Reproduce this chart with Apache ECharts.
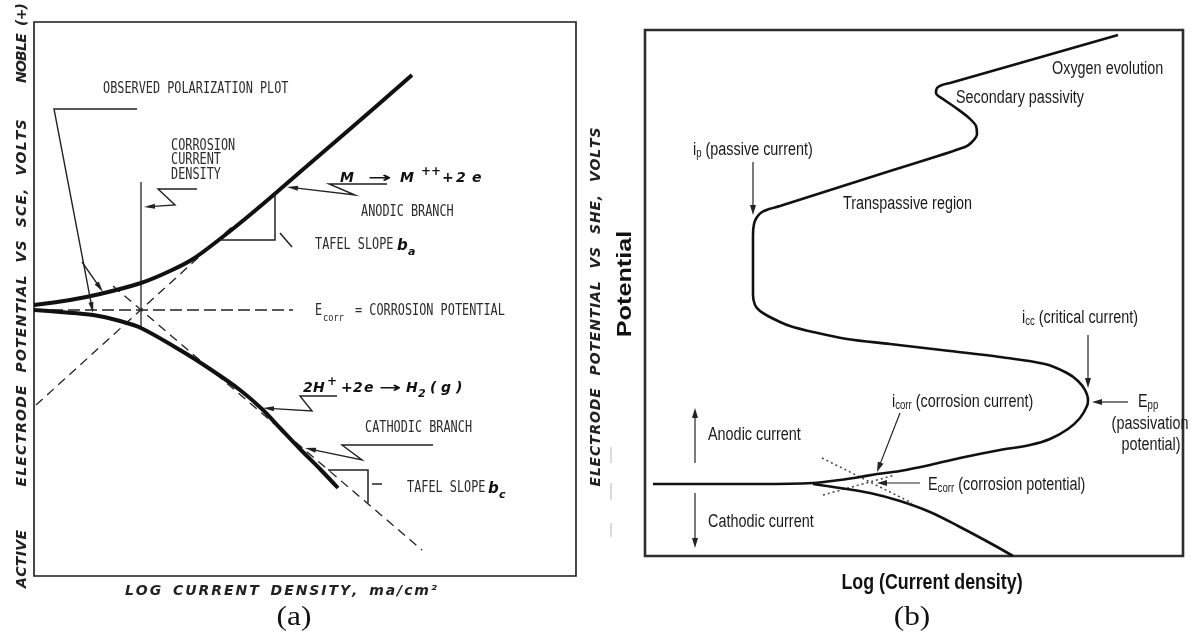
<!DOCTYPE html>
<html>
<head>
<meta charset="utf-8">
<script src="https://cdn.jsdelivr.net/npm/echarts@6/dist/echarts.min.js"></script>
<style>
  html, body { margin: 0; padding: 0; background: #fff; }
  #chart { width: 1193px; height: 640px; }
</style>
</head>
<body>
<div id="chart"></div>
<script>
// ---------- Panel (a): Evans diagram (schematic units: log i across, potential up) ----------
const aAnodic = [[0,271],[36,276],[66,282],[107,293],[136,305],[159,317],[186,337],[211,357],[236,378],[266,404],[316,447],[378,501]];
const aCathodic = [[0,266],[26,264],[59,261],[86,255],[107,248],[146,226],[176,207],[206,186],[228,167],[246,148],[266,127],[286,107],[304,88]];
const aAnodicTafel = [[2,171],[198,349]];
const aCathodicTafel = [[79,290],[388,26]];
const aEcorrLine = [[0,266],[259,266]];
const aIcorrLine = [[107,394],[107,246]];
// Tafel slope triangles and their small pointer ticks
const aGuides = [
  [[186,336],[241,336],[241,383]],
  [[294,106],[334,106],[334,73]],
  [[246,343],[258,329]],
  [[338,92],[348,92]]
];
// annotation leaders, the last point is the arrow tip
const aLeaders = [
  [[103,467],[20,467],[59,263]],
  [[48,314],[69,284]],
  [[163,387],[124,387],[141,371],[110,369]],
  [[353,392],[295,392],[321,381],[253,389]],
  [[303,180],[266,180],[278,165],[229,168]],
  [[399,131],[308,131],[328,116],[271,128]]
];

// ---------- Panel (b): active-passive polarization curve ----------
const bAnodic = [[8,72],[55,72],[115,72],[168,73],[195,76],[215,79],[232,82],[255,85],[285,91],[315,98],[355,106],[385,111],[405,117],[423,127],[435,138],[442,150],[443,156],[440,166],[433,175],[422,183],[400,192],[355,199],[305,205],[245,212],[202,217],[168,224],[145,230],[133,235],[123,240],[115,245],[110,251],[108,261],[108,296],[108,321],[109,332],[112,339],[117,344],[124,347],[135,350],[245,385],[320,409],[327,414],[332,422],[331,430],[324,438],[311,448],[298,457],[291,463],[292,468],[297,471],[305,473],[473,521]];
const bCathodic = [[168,72],[195,68],[225,63],[255,55],[285,44],[315,29],[345,13],[368,0]];
const bAnodicTafel = [[178,61],[250,81]];
const bCathodicTafel = [[177,98],[267,53]];
const bArrows = [
  [[108,394],[108,341]],
  [[443,221],[443,168]],
  [[483,154],[447,154]],
  [[255,143],[232,84]],
  [[275,73],[232,73]],
  [[50,93],[50,148]],
  [[50,63],[50,8]]
];

// ---------- helpers ----------
const chart = echarts.init(document.getElementById('chart'), null, { renderer: 'canvas' });
const mctx = document.createElement('canvas').getContext('2d');
function textWidth(t, font) { mctx.font = font; return mctx.measureText(t).width; }
function fontStr(size, family, weight, style) { return (style || 'normal') + ' ' + (weight || 'normal') + ' ' + size + 'px ' + family; }

function piece(x, y, text, font, o) {
  o = o || {};
  const align = o.align || 'left';
  return {
    type: 'text', x: x, y: y, scaleX: o.sx || 1, rotation: o.rot || 0, silent: true, z: 20,
    style: { text: text, font: font, fill: o.fill || '#1a1a1a',
      align: align, verticalAlign: 'middle', textAlign: align, textVerticalAlign: 'middle' }
  };
}
function run(x, y, parts, base) {
  const out = []; let cx = x;
  parts.forEach(function (p) {
    const font = fontStr(p.size || base.size, base.family, p.weight || base.weight, p.style || base.style);
    const sx = p.sx || base.sx || 1;
    out.push(piece(cx, y + (p.dy || 0), p.t, font, { sx: sx, fill: base.fill }));
    cx += textWidth(p.t, font) * sx + (p.gap || 0);
  });
  return out;
}
// letter-spaced lettering stretched over a given span
function spaced(text, cx, cy, span, font, vertical, wordGap, fill) {
  const chars = Array.from(text);
  const letters = chars.filter(function (c) { return c !== ' '; });
  const nSp = chars.length - letters.length;
  const sum = letters.reduce(function (a, c) { return a + textWidth(c, font); }, 0);
  const gap = (span - sum - nSp * wordGap) / Math.max(1, letters.length - 1);
  const out = []; let pos = 0;
  chars.forEach(function (c) {
    if (c === ' ') { pos += wordGap; return; }
    const w = textWidth(c, font), mid = pos + w / 2;
    if (vertical) out.push(piece(cx, cy + span / 2 - mid, c, font, { rot: Math.PI / 2, align: 'center', fill: fill }));
    else out.push(piece(cx - span / 2 + mid, cy, c, font, { align: 'center', fill: fill }));
    pos += w + gap;
  });
  return out;
}

function curve(data, g, lineStyle, smooth) {
  return { type: 'line', xAxisIndex: g, yAxisIndex: g, data: data, smooth: smooth,
    showSymbol: false, symbol: 'none', silent: true, animation: false, z: 2, lineStyle: lineStyle };
}
function pathSeries(list, g, opt) {
  return {
    type: 'custom', coordinateSystem: 'cartesian2d', xAxisIndex: g, yAxisIndex: g,
    silent: true, animation: false, clip: false, z: 3,
    data: list.map(function (p) { return p[0]; }),
    renderItem: function (params, api) {
      const pts = list[params.dataIndex].map(function (p) { return api.coord(p); });
      const n = pts.length;
      if (!opt.head) {
        return { type: 'polyline', shape: { points: pts }, style: { stroke: opt.color, lineWidth: opt.width, fill: 'none' } };
      }
      const tip = pts[n - 1], prev = pts[n - 2];
      const ang = Math.atan2(tip[1] - prev[1], tip[0] - prev[0]);
      const c = Math.cos(ang), s = Math.sin(ang);
      const base = [tip[0] - opt.head * c, tip[1] - opt.head * s];
      const hw = opt.headW / 2;
      const l = [base[0] + hw * s, base[1] - hw * c];
      const r = [base[0] - hw * s, base[1] + hw * c];
      const linePts = pts.slice(0, n - 1).concat([[tip[0] - (opt.head - 1) * c, tip[1] - (opt.head - 1) * s]]);
      return { type: 'group', children: [
        { type: 'polyline', shape: { points: linePts }, style: { stroke: opt.color, lineWidth: opt.width, fill: 'none' } },
        { type: 'polygon', shape: { points: [tip, l, r] }, style: { fill: opt.color, stroke: 'none' } }
      ] };
    }
  };
}

// ---------- text ----------
const mono = { family: '"DejaVu Sans Mono"', size: 15, sx: 0.79, fill: '#2b2b2b' };
const monoFont = fontStr(15, mono.family);
const formula = { family: '"DejaVu Sans"', size: 14, weight: 'bold', style: 'italic', fill: '#111' };
const sans = { family: '"Liberation Sans", Arial', size: 18, sx: 0.8, fill: '#1a1a1a' };
const sansFont = fontStr(18, sans.family);
const axisLetter = fontStr(14, '"DejaVu Sans"', 'bold', 'italic');
const serifFont = fontStr(28, '"Liberation Serif", "Times New Roman"');

let texts = [];
// panel (a) lettering
texts.push(piece(103, 89, 'OBSERVED POLARIZATION PLOT', monoFont, { sx: mono.sx, fill: mono.fill }));
texts.push(piece(171, 146, 'CORROSION', monoFont, { sx: mono.sx, fill: mono.fill }));
texts.push(piece(171, 160, 'CURRENT', monoFont, { sx: mono.sx, fill: mono.fill }));
texts.push(piece(171, 175, 'DENSITY', monoFont, { sx: mono.sx, fill: mono.fill }));
texts.push(piece(361, 212, 'ANODIC BRANCH', monoFont, { sx: mono.sx, fill: mono.fill }));
texts.push(piece(315, 245, 'TAFEL SLOPE', monoFont, { sx: mono.sx, fill: mono.fill }));
texts.push(piece(365, 428, 'CATHODIC BRANCH', monoFont, { sx: mono.sx, fill: mono.fill }));
texts.push(piece(407, 488, 'TAFEL SLOPE', monoFont, { sx: mono.sx, fill: mono.fill }));
texts.push(piece(315, 311, 'E', monoFont, { sx: mono.sx, fill: mono.fill }));
texts.push(piece(323, 318, 'corr', fontStr(11, mono.family), { sx: mono.sx, fill: mono.fill }));
texts.push(piece(355, 311, '= CORROSION POTENTIAL', monoFont, { sx: mono.sx, fill: mono.fill }));

const fBig = fontStr(14, formula.family, 'bold', 'italic');
const fSmall = fontStr(11, formula.family, 'bold', 'italic');
// M -> M++ + 2e
texts.push(piece(340, 178, 'M', fBig, { fill: formula.fill }));
texts.push(piece(368, 178, '\u2192', fBig, { sx: 2.0, fill: formula.fill }));
texts.push(piece(400, 178, 'M', fBig, { fill: formula.fill }));
texts.push(piece(421, 172, '++', fontStr(12, formula.family, 'bold', 'italic'), { fill: formula.fill }));
texts.push(piece(442, 178, '+', fBig, { fill: formula.fill }));
texts.push(piece(456, 178, '2', fBig, { fill: formula.fill }));
texts.push(piece(472, 178, 'e', fBig, { fill: formula.fill }));
// 2H+ + 2e -> H2(g)
texts.push(piece(303, 388, '2', fBig, { fill: formula.fill }));
texts.push(piece(313, 388, 'H', fBig, { fill: formula.fill }));
texts.push(piece(327, 382, '+', fontStr(12, formula.family, 'bold', 'italic'), { fill: formula.fill }));
texts.push(piece(341, 388, '+', fBig, { fill: formula.fill }));
texts.push(piece(353, 388, '2', fBig, { fill: formula.fill }));
texts.push(piece(364, 388, 'e', fBig, { fill: formula.fill }));
texts.push(piece(379, 388, '\u2192', fBig, { sx: 1.9, fill: formula.fill }));
texts.push(piece(406, 388, 'H', fBig, { fill: formula.fill }));
texts.push(piece(418, 394, '2', fSmall, { fill: formula.fill }));
texts.push(piece(430, 388, '(', fBig, { fill: formula.fill }));
texts.push(piece(441, 388, 'g', fBig, { fill: formula.fill }));
texts.push(piece(456, 388, ')', fBig, { fill: formula.fill }));
// Tafel slope symbols
texts.push(piece(397, 246, 'b', fontStr(15, formula.family, 'bold', 'italic'), { fill: formula.fill }));
texts.push(piece(408, 252, 'a', fSmall, { fill: formula.fill }));
texts.push(piece(488, 489, 'b', fontStr(15, formula.family, 'bold', 'italic'), { fill: formula.fill }));
texts.push(piece(499, 495, 'c', fSmall, { fill: formula.fill }));

// panel (a) axis lettering
texts = texts.concat(spaced('NOBLE (+)', 22, 43, 80, axisLetter, true, 8, '#222'));
texts = texts.concat(spaced('ELECTRODE POTENTIAL VS SCE, VOLTS', 22, 303, 367, axisLetter, true, 12, '#222'));
texts = texts.concat(spaced('ACTIVE', 22, 559, 58, axisLetter, true, 0, '#222'));
texts = texts.concat(spaced('ELECTRODE POTENTIAL VS SHE, VOLTS', 596, 307, 359, axisLetter, true, 12, '#222'));
texts = texts.concat(spaced('LOG CURRENT DENSITY, ma/cm\u00b2', 281, 591, 312, axisLetter, false, 10, '#222'));
texts.push(piece(294, 618, '(a)', serifFont, { align: 'center', sx: 1.12, fill: '#111' }));

// panel (b) labels
const sub = { size: 12, dy: 4 };
texts = texts.concat(run(693, 150, [{ t: 'i' }, Object.assign({ t: 'p' }, sub), { t: ' (passive current)' }], sans));
texts.push(piece(843, 204, 'Transpassive region', sansFont, { sx: sans.sx }));
texts.push(piece(956, 98, 'Secondary passivity', sansFont, { sx: sans.sx }));
texts.push(piece(1052, 69, 'Oxygen evolution', sansFont, { sx: sans.sx }));
texts = texts.concat(run(1022, 318, [{ t: 'i' }, Object.assign({ t: 'cc' }, sub), { t: ' (critical current)' }], sans));
texts = texts.concat(run(1138, 402, [{ t: 'E' }, Object.assign({ t: 'pp' }, sub)], sans));
texts.push(piece(1150, 424, '(passivation', sansFont, { sx: sans.sx, align: 'center' }));
texts.push(piece(1151, 445, 'potential)', sansFont, { sx: sans.sx, align: 'center' }));
texts = texts.concat(run(892, 402, [{ t: 'i' }, Object.assign({ t: 'corr' }, sub), { t: ' (corrosion current)' }], sans));
texts = texts.concat(run(928, 485, [{ t: 'E' }, Object.assign({ t: 'corr' }, sub), { t: ' (corrosion potential)' }], sans));
texts.push(piece(708, 435, 'Anodic current', sansFont, { sx: sans.sx }));
texts.push(piece(708, 522, 'Cathodic current', sansFont, { sx: sans.sx }));
texts.push(piece(625, 284, 'Potential', fontStr(21, sans.family, 'bold'), { rot: Math.PI / 2, align: 'center', sx: 1.2, fill: '#111' }));
texts.push(piece(932, 583, 'Log (Current density)', fontStr(22, sans.family, 'bold'), { align: 'center', sx: 0.81, fill: '#111' }));
texts.push(piece(912, 618, '(b)', serifFont, { align: 'center', sx: 1.12, fill: '#111' }));

// faint marks left of panel (b)
const faint = [[447, 463], [483, 500], [523, 537]].map(function (s) {
  return { type: 'line', silent: true, shape: { x1: 611, y1: s[0], x2: 611, y2: s[1] }, style: { stroke: '#cfcfcf', lineWidth: 1.5 } };
});

const dash = { color: '#222', width: 1.3, type: [9, 6] };
const option = {
  animation: false,
  backgroundColor: '#fff',
  grid: [
    { left: 34, top: 22, width: 542, height: 554, show: true, borderColor: '#1a1a1a', borderWidth: 1.6, backgroundColor: 'transparent', containLabel: false },
    { left: 645, top: 30, width: 538, height: 526, show: true, borderColor: '#2e2e2e', borderWidth: 2.6, backgroundColor: 'transparent', containLabel: false }
  ],
  xAxis: [
    { type: 'value', gridIndex: 0, min: 0, max: 542, show: false },
    { type: 'value', gridIndex: 1, min: 0, max: 538, show: false }
  ],
  yAxis: [
    { type: 'value', gridIndex: 0, min: 0, max: 554, show: false },
    { type: 'value', gridIndex: 1, min: 0, max: 526, show: false }
  ],
  series: [
    curve(aAnodicTafel, 0, dash, false),
    curve(aCathodicTafel, 0, dash, false),
    curve(aEcorrLine, 0, { color: '#222', width: 1.3, type: [12, 5] }, false),
    curve(aIcorrLine, 0, { color: '#222', width: 1.3 }, false),
    curve(aAnodic, 0, { color: '#111', width: 4 }, 0.3),
    curve(aCathodic, 0, { color: '#111', width: 4 }, 0.3),
    pathSeries(aGuides, 0, { color: '#222', width: 1.5 }),
    pathSeries(aLeaders, 0, { color: '#222', width: 1.4, head: 11, headW: 5 }),

    curve(bAnodicTafel, 1, { color: '#444', width: 1.5, type: [2, 3] }, false),
    curve(bCathodicTafel, 1, { color: '#444', width: 1.5, type: [2, 3] }, false),
    curve(bAnodic, 1, { color: '#111', width: 2.6 }, 0.35),
    curve(bCathodic, 1, { color: '#111', width: 2.6 }, 0.35),
    pathSeries(bArrows, 1, { color: '#222', width: 1.2, head: 10, headW: 6 })
  ],
  graphic: { elements: texts.concat(faint) }
};
chart.setOption(option);
</script>
</body>
</html>
